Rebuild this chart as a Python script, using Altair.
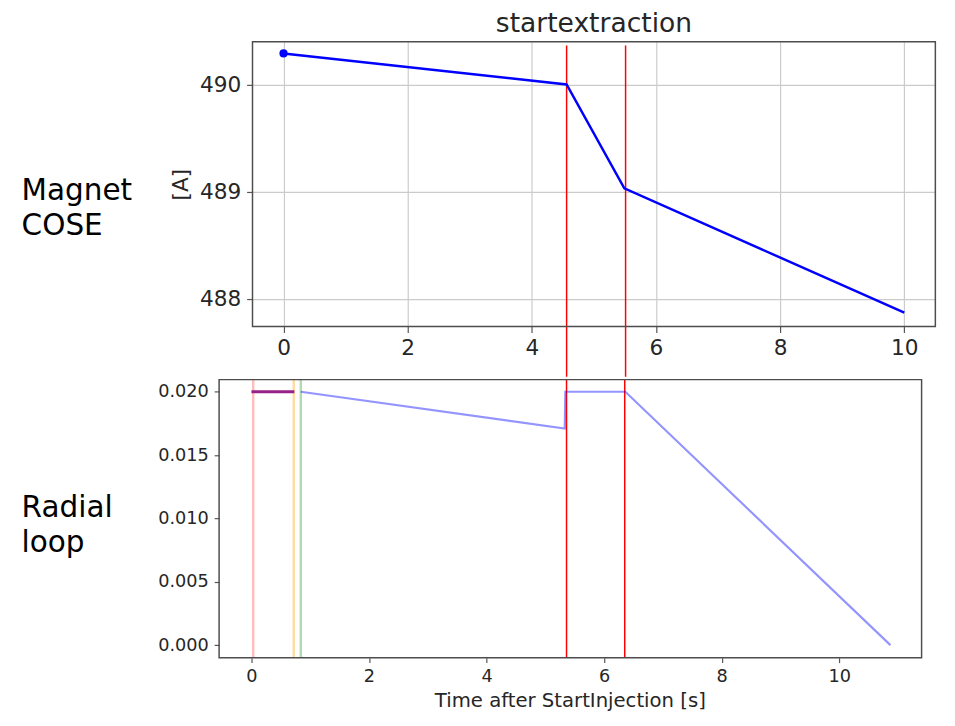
import altair as alt
import pandas as pd

FONT = "DejaVu Sans"
TEXT_COLOR = "#262626"
FRAME_COLOR = "#4d4d4d"

# --- Magnet COSE current (top panel) ---
cose_time = [0.0, 4.56, 5.49, 10.0]
cose_current = [490.29, 490.0, 489.03, 487.87]
top_title = "startextraction"
top_label = "Magnet\nCOSE"
top_xticks = [0, 2, 4, 6, 8, 10]
top_yticks = [488, 489, 490]

# extraction window, in each panel's own time base
extraction_top = [4.56, 5.51]
extraction_bottom = [5.36, 6.35]

# --- Radial loop (bottom panel) ---
loop_time = [0.84, 5.33, 5.34, 6.36, 10.87]
loop_value = [0.020, 0.0171, 0.020, 0.020, 0.0]
inj_time = [0.0, 0.73]
inj_value = [0.020, 0.020]
marker_time = [0.03, 0.72, 0.84]
marker_color = ["#ffbdbd", "#ffdca0", "#b5d9b5"]
bottom_label = "Radial\nloop"
bottom_xticks = [0, 2, 4, 6, 8, 10]
bottom_yticks = [0.0, 0.005, 0.010, 0.015, 0.020]
bottom_xtitle = "Time after StartInjection [s]"

W1, H1 = 695, 290
GAP = 51          # vertical distance between the two frames
SHIFT = 34        # bottom frame starts this far left of the top frame
W2, H2 = 681, 283  # bottom view; its frame spans [-SHIFT, W2]
LABEL_X = -235    # left edge of the side labels


def frame(w0, w1, h):
    return alt.Chart(pd.DataFrame({"k": [0]})).mark_rect(
        fill=None, stroke=FRAME_COLOR, strokeWidth=1.5
    ).encode(x=alt.value(w0), x2=alt.value(w1), y=alt.value(0), y2=alt.value(h))


def caption(text, x, y, size, color=TEXT_COLOR, align="center", line_height=None):
    kw = dict(fontSize=size, font=FONT, color=color, align=align, baseline="alphabetic")
    if line_height:
        kw.update(lineBreak="\n", lineHeight=line_height)
    return alt.Chart(pd.DataFrame({"s": [text]})).mark_text(**kw).encode(
        x=alt.value(x), y=alt.value(y), text="s:N"
    )


# ---------------- top panel ----------------
xs1 = alt.Scale(domain=[-0.5, 10.5], nice=False, zero=False)
ys1 = alt.Scale(domain=[487.74, 490.40], nice=False, zero=False)

ax_x1 = alt.Axis(values=top_xticks, format="d", title=None, grid=True,
                 gridColor="#cbcbcb", gridWidth=1.2, domain=False,
                 tickColor="#555555", tickSize=6, tickWidth=1.2, labelFontSize=22,
                 labelColor=TEXT_COLOR, labelPadding=5, labelFont=FONT)
ax_y1 = alt.Axis(values=top_yticks, format="d", title="[A]", grid=True,
                 gridColor="#cbcbcb", gridWidth=1.2, domain=False,
                 tickColor="#555555", tickSize=6, tickWidth=1.2, labelFontSize=22,
                 labelColor=TEXT_COLOR, labelPadding=6, labelFont=FONT,
                 titleFontSize=22, titleFontWeight="normal", titleColor=TEXT_COLOR,
                 titleFont=FONT, titlePadding=7)

top_df = pd.DataFrame({"t": cose_time, "a": cose_current})

top_line = alt.Chart(top_df).mark_line(color="#0000ff", strokeWidth=2.5).encode(
    x=alt.X("t:Q", scale=xs1, axis=ax_x1),
    y=alt.Y("a:Q", scale=ys1, axis=ax_y1),
)
top_dot = alt.Chart(top_df.iloc[:1]).mark_circle(color="#0000ff", size=70, opacity=1).encode(
    x=alt.X("t:Q", scale=xs1),
    y=alt.Y("a:Q", scale=ys1),
)
top_rules = alt.Chart(pd.DataFrame({"t": extraction_top})).mark_rule(
    color="#ff0000", strokeWidth=1.5
).encode(
    x=alt.X("t:Q", scale=xs1),
    y=alt.value(4),
    y2=alt.value(H1 + GAP),
)

top = alt.layer(
    top_rules, top_line, top_dot,
    caption(top_title, W1 / 2, -10, 27),
    caption(top_label, LABEL_X, 161, 30, color="#000000", align="left", line_height=36),
    frame(0, W1, H1),
).properties(width=W1, height=H1)

# ---------------- bottom panel ----------------
xs2 = alt.Scale(domain=[-0.55, 11.4], range=[-SHIFT, W2], nice=False, zero=False)
ys2 = alt.Scale(domain=[-0.00099, 0.02096], nice=False, zero=False)

ax_x2 = alt.Axis(values=bottom_xticks, format="d", title=None, grid=False,
                 domain=False, tickColor="#555555", tickSize=5, tickWidth=1.2,
                 labelFontSize=18, labelColor=TEXT_COLOR, labelPadding=5,
                 labelFont=FONT)
ax_y2 = alt.Axis(values=bottom_yticks, format=".3f", title=None, grid=False,
                 domain=False, tickColor="#555555", tickSize=5, tickWidth=1.2,
                 labelFontSize=18, labelColor=TEXT_COLOR, labelPadding=6,
                 labelFont=FONT, offset=SHIFT)

markers = alt.Chart(pd.DataFrame({"t": marker_time, "c": marker_color})).mark_rule(
    strokeWidth=2.5
).encode(
    x=alt.X("t:Q", scale=xs2, axis=ax_x2),
    color=alt.Color("c:N", scale=None),
)
bottom_rules = alt.Chart(pd.DataFrame({"t": extraction_bottom})).mark_rule(
    color="#ff0000", strokeWidth=1.5
).encode(x=alt.X("t:Q", scale=xs2))
loop_line = alt.Chart(pd.DataFrame({"t": loop_time, "v": loop_value})).mark_line(
    color="#0000ff", opacity=0.42, strokeWidth=2.2
).encode(
    x=alt.X("t:Q", scale=xs2),
    y=alt.Y("v:Q", scale=ys2, axis=ax_y2),
)
inj_line = alt.Chart(pd.DataFrame({"t": inj_time, "v": inj_value})).mark_line(
    color="#97208a", strokeWidth=3
).encode(
    x=alt.X("t:Q", scale=xs2),
    y=alt.Y("v:Q", scale=ys2),
)

bottom = alt.layer(
    markers, bottom_rules, loop_line, inj_line,
    caption(bottom_label, LABEL_X, 140, 30, color="#000000", align="left", line_height=35),
    caption(bottom_xtitle, (W2 - SHIFT) / 2, H2 + 50, 20),
    frame(-SHIFT, W2, H2),
).properties(width=W2, height=H2)

chart = alt.vconcat(top, bottom, spacing=0).properties(
    padding={"left": 22, "top": 4, "right": 0, "bottom": 0},
    background="white",
).configure(font=FONT).configure_view(stroke=None)

chart.save("out.html", embed_options={"renderer": "svg", "actions": False})
